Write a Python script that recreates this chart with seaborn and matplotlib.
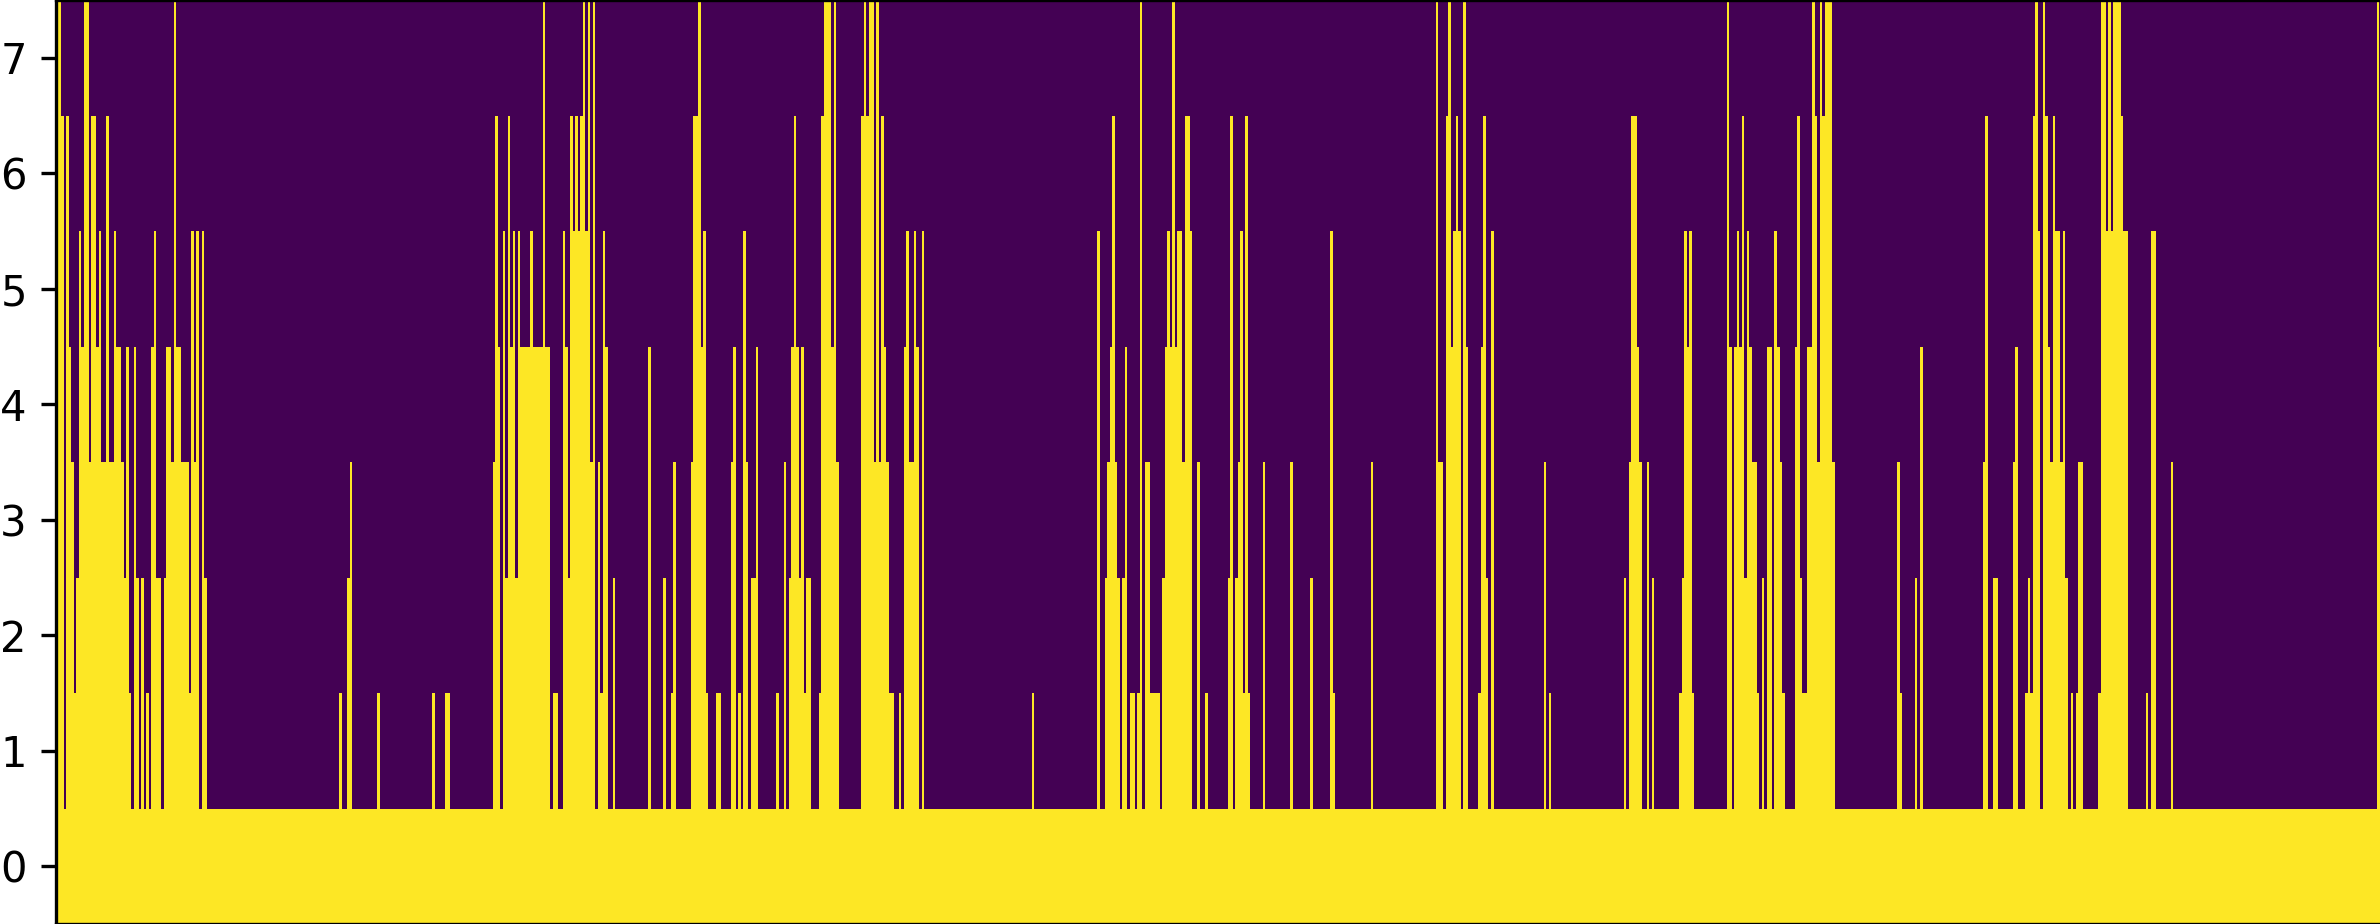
"""
plot.py
Binary activity heatmap: each column is lit from row 0 up to its burst height.
"""

import numpy as np
import matplotlib
matplotlib.use("Agg")
import matplotlib.pyplot as plt
import seaborn as sns

# Data
N_COLS = 927
ROW_LABELS = [0, 1, 2, 3, 4, 5, 6, 7]

# First column of each burst, then the height of each column in that burst
burst_starts = [
    0, 113, 116, 128, 150, 155, 174, 236, 242, 245, 253, 263, 269, 287, 290, 321,
    389, 415, 458, 467, 481, 492, 500, 508, 524, 550, 593, 595, 625, 627, 647, 666,
    734, 741, 743, 768, 772, 780, 785, 814, 833, 835, 843, 925,
]
burst_heights = [
    [7, 7, 6, 0, 6, 4, 3, 1, 2, 5, 4, 7, 7, 3, 6, 6, 4, 5, 3, 3, 6, 3, 3, 5, 4, 4, 3, 2, 4, 1,
     0, 4, 2, 0, 2, 0, 1, 0, 4, 5, 2, 2, 0, 2, 4, 4, 3, 7, 4, 4, 3, 3, 3, 1, 5, 3, 5, 0, 5, 2],
    [1],
    [2, 3],
    [1],
    [1],
    [1, 1],
    [3, 6, 4, 0, 5, 2, 6, 4, 5, 2, 5, 4, 4, 4, 4, 5, 4, 4, 4, 4, 7, 4, 4, 0, 1, 1, 0, 0, 5, 4,
     2, 6, 5, 6, 5, 6, 7, 5, 7, 3, 7, 0, 3, 1, 5, 4, 0, 0, 2],
    [4],
    [2],
    [1, 3],
    [3, 6, 6, 7, 4, 5, 1],
    [1, 1],
    [3, 4, 0, 1, 0, 5, 3, 0, 2, 2, 4],
    [1],
    [3, 0, 2, 4, 6, 4, 2, 4, 1, 2, 2, 0, 0, 0, 1, 6, 7, 7, 7, 4, 7, 3],
    [6, 7, 6, 7, 7, 3, 7, 3, 6, 4, 3, 1, 1, 0, 0, 1, 0, 4, 5, 3, 3, 5, 4, 0, 5],
    [1],
    [5, 0, 0, 2, 3, 4, 6, 3, 2, 0, 2, 4, 0, 1, 1, 0, 1, 7, 0, 3, 3, 1, 1, 1, 1, 0, 2, 4, 5, 4,
     7, 4, 5, 5, 3, 6, 6, 5, 0, 0, 3],
    [1],
    [2, 6, 0, 2, 3, 5, 1, 6, 1],
    [3],
    [3],
    [2],
    [5, 1],
    [3],
    [7, 3, 3, 0, 6, 7, 4, 5, 6, 5, 0, 7, 4, 0, 0, 0, 0, 1, 4, 6, 2, 0, 5],
    [3],
    [1],
    [2],
    [3, 6, 6, 4, 3, 0, 0, 3, 0, 2],
    [1, 2, 5, 4, 5, 1],
    [7, 4, 0, 4, 5, 4, 6, 2, 5, 4, 3, 3, 1, 0, 2, 0, 4, 4, 0, 5, 4, 3, 1, 0, 0, 0, 0, 4, 6, 2,
     1, 1, 4, 4, 7, 6, 3, 7, 6, 7, 7, 7, 3],
    [3, 1],
    [2],
    [4],
    [3, 6],
    [2, 2],
    [3, 4],
    [1, 2, 1, 6, 7, 5, 0, 7, 6, 4, 3, 6, 5, 5, 3, 5, 2, 0, 1, 0, 1, 3, 3],
    [1, 7, 7, 5, 7, 5, 7, 7, 7, 6, 5, 5],
    [1],
    [5, 5],
    [3],
    [7, 4],
]

# Build the on/off matrix from the column heights
col_heights = np.zeros(N_COLS, dtype=int)
for start, heights in zip(burst_starts, burst_heights):
    col_heights[start:start + len(heights)] = heights
matrix = np.array([col_heights >= row for row in ROW_LABELS], dtype=float)

# Figure is 2380x924 at 300 dpi, axes run slightly past the right edge
fig = plt.figure(figsize=(2380 / 300, 924 / 300), dpi=300)
ax = fig.add_axes([56 / 2380, 0, 2325.6 / 2380, 1])

sns.heatmap(matrix, cmap="viridis", vmin=0, vmax=1, cbar=False,
            xticklabels=False, yticklabels=ROW_LABELS, ax=ax)
ax.set_ylim(0, len(ROW_LABELS))
ax.tick_params(axis="y", labelrotation=0, length=3.5, width=0.8, labelsize=10, pad=3.5)

# heatmap sets plain "center", the default tick alignment sits a little lower
for label in ax.get_yticklabels():
    label.set_verticalalignment("center_baseline")

for spine in ax.spines.values():
    spine.set_visible(True)
    spine.set_linewidth(0.8)
    spine.set_color("black")

fig.savefig("out.png", dpi=300)
plt.close(fig)
